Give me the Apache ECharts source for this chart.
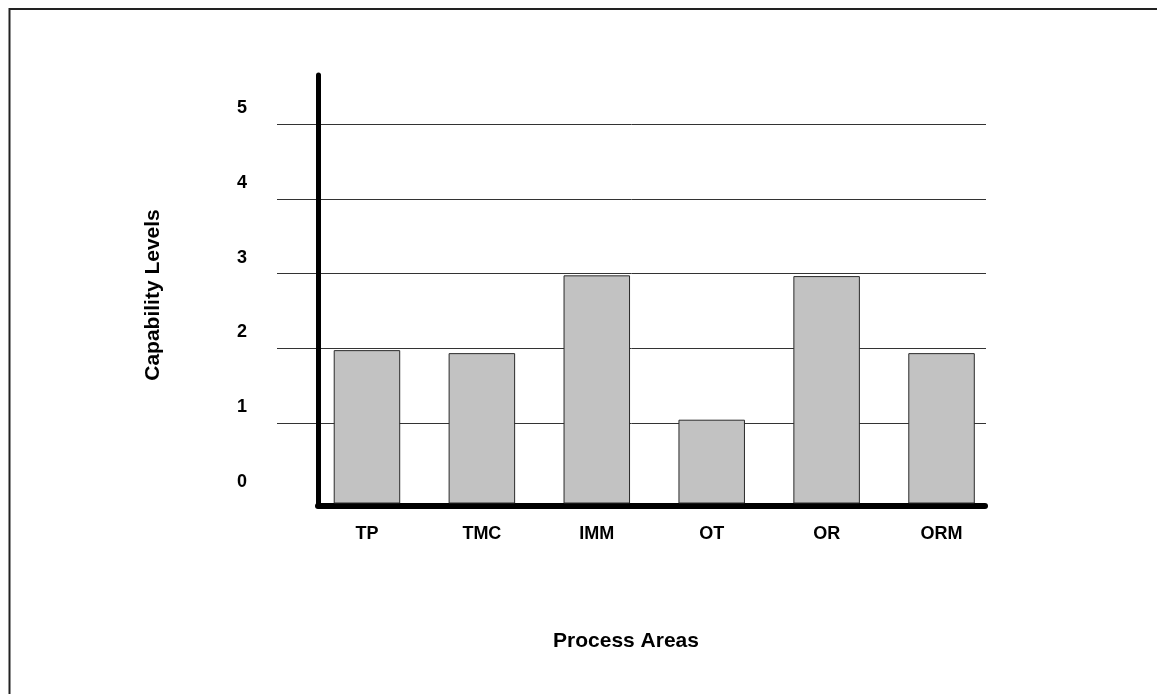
<!DOCTYPE html>
<html>
<head>
<meta charset="utf-8">
<script src="https://cdn.jsdelivr.net/npm/echarts@6/dist/echarts.min.js"></script>
<style>
html,body{margin:0;padding:0;background:#fff;}
#chart{width:1157px;height:694px;}
</style>
</head>
<body>
<div id="chart"></div>
<script>
const categories = ['TP', 'TMC', 'IMM', 'OT', 'OR', 'ORM'];
const capability = [1.97, 1.93, 2.97, 1.04, 2.96, 1.93];
const levelMin = 0;
const levelMax = 5;
const levelStep = 1;
const barAxisMin = -0.067;
const yTitle = 'Capability Levels';
const xTitle = 'Process Areas';

const FONT = '"Liberation Sans", Arial, sans-serif';

const chart = echarts.init(document.getElementById('chart'));
chart.setOption({
  animation: false,
  backgroundColor: '#fff',
  grid: [
    { left: 277, right: 171, top: 124, bottom: 196 },
    { left: 318, right: 172, top: 75, bottom: 188 },
    { left: 309.5, right: 158, top: 124, bottom: 191 }
  ],
  xAxis: [
    { gridIndex: 0, type: 'value', show: false },
    { gridIndex: 1, type: 'value', position: 'bottom',
      axisLine: { show: true, onZero: false, lineStyle: { color: '#000', width: 6 } },
      axisTick: { show: false }, axisLabel: { show: false }, splitLine: { show: false } },
    { gridIndex: 2, type: 'category', data: categories, boundaryGap: true,
      axisLine: { show: false }, axisTick: { show: false }, splitLine: { show: false },
      axisLabel: { margin: 22, color: '#000', fontFamily: FONT, fontWeight: 'bold', fontSize: 18 } }
  ],
  yAxis: [
    { gridIndex: 0, type: 'value', min: levelMin, max: levelMax, interval: levelStep,
      axisLine: { show: false }, axisTick: { show: false },
      splitLine: { show: true, showMinLine: false, lineStyle: { color: '#333', width: 1 } },
      axisLabel: { margin: 30, color: '#000', fontFamily: FONT, fontWeight: 'bold', fontSize: 18,
                   verticalAlign: 'bottom', lineHeight: 32 } },
    { gridIndex: 1, type: 'value', position: 'left',
      axisLine: { show: true, onZero: false, lineStyle: { color: '#000', width: 5 } },
      axisTick: { show: false }, axisLabel: { show: false }, splitLine: { show: false } },
    { gridIndex: 2, type: 'value', min: barAxisMin, max: levelMax, show: false,
      splitLine: { show: false } }
  ],
  graphic: [
    { type: 'polyline', silent: true, z: 100,
      shape: { points: [[9.5, 694], [9.5, 9], [1157, 9]] },
      style: { stroke: '#222', lineWidth: 2, fill: null } },
    { type: 'text', x: 153, y: 295, rotation: Math.PI / 2,
      style: { text: yTitle, font: 'bold 21px ' + FONT, fill: '#000', textAlign: 'center', textVerticalAlign: 'middle' } },
    { type: 'text', x: 626, y: 641,
      style: { text: xTitle, font: 'bold 21px ' + FONT, fill: '#000', textAlign: 'center', textVerticalAlign: 'middle' } }
  ],
  series: [
    {
      type: 'custom',
      xAxisIndex: 2,
      yAxisIndex: 2,
      z: 1,
      data: categories.map((c, i) => [i, capability[i]]),
      renderItem: function (params, api) {
        const top = api.coord([api.value(0), api.value(1)]);
        const base = api.coord([api.value(0), barAxisMin]);
        const w = api.size([1, 0])[0] * 0.57;
        return {
          type: 'rect',
          shape: { x: top[0] - w / 2, y: top[1], width: w, height: base[1] - top[1] },
          style: { fill: '#c2c2c2', stroke: '#2a2a2a', lineWidth: 1 }
        };
      }
    }
  ]
});
</script>
</body>
</html>
